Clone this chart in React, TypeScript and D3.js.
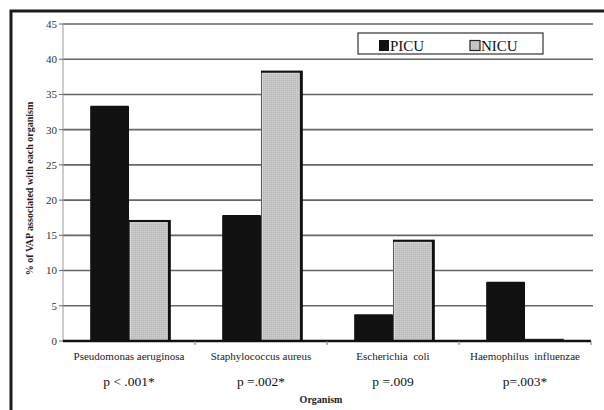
import React from "react";
import * as d3 from "d3";

const organisms = [
  "Pseudomonas aeruginosa",
  "Staphylococcus aureus",
  "Escherichia  coli",
  "Haemophilus  influenzae",
];
const pLabels = ["p < .001*", "p =.002*", "p =.009", "p=.003*"];
const picu = [33.4, 17.9, 3.8, 8.4];
const nicu = [16.9, 38.1, 14.1, 0.1];
const yTicks = [0, 5, 10, 15, 20, 25, 30, 35, 40, 45];

const W = 604;
const H = 410;
const margin = { top: 24, right: 13, bottom: 69, left: 63 };
const font = "'Liberation Serif', 'Times New Roman', serif";

const App = () => {
  const plotW = W - margin.left - margin.right;
  const plotH = H - margin.top - margin.bottom;

  const x = d3.scaleBand().domain(organisms).range([0, plotW]);
  const inner = d3
    .scaleBand()
    .domain(["PICU", "NICU"])
    .range([0, x.bandwidth()])
    .paddingOuter(0.7)
    .paddingInner(0);
  const y = d3.scaleLinear().domain([0, 45]).range([plotH, 0]);
  const bw = inner.bandwidth();

  return (
    <svg
      width={W}
      height={H}
      style={{ position: "absolute", left: 0, top: 0, background: "#fff" }}
    >
      <defs>
        <pattern id="dots" width="2" height="2" patternUnits="userSpaceOnUse">
          <rect width="2" height="2" fill="#c9c9c9" />
          <rect width="1" height="1" fill="#b4b4b4" />
        </pattern>
      </defs>
      {/* frame */}
      <rect x={11} y={11} width={640} height={440} fill="none" stroke="#1a1a1a" strokeWidth={3} />

      <g transform={`translate(${margin.left},${margin.top})`}>
        {/* gridlines */}
        {yTicks.slice(1).map((t) => (
          <line key={t} x1={0} x2={plotW + 2} y1={y(t)} y2={y(t)} stroke="#666" strokeWidth={1.6} />
        ))}
        {/* y axis */}
        <line x1={0} x2={0} y1={0} y2={plotH} stroke="#999" strokeWidth={1} />
        {yTicks.map((t) => (
          <g key={t} transform={`translate(0,${y(t)})`}>
            <line x1={-4} x2={0} stroke="#666" />
            <text x={-6} dy="0.35em" textAnchor="end" fontSize={11} fontFamily={font} fill="#333">
              {t}
            </text>
          </g>
        ))}

        {/* bars */}
        {organisms.map((o, i) => {
          const x0 = x(o) ?? 0;
          const px = x0 + (inner("PICU") ?? 0);
          const nx = x0 + (inner("NICU") ?? 0);
          const nh = plotH - y(nicu[i]);
          return (
            <g key={o}>
              <rect x={px} y={y(picu[i])} width={bw} height={plotH - y(picu[i])} fill="#111" rx={1} />
              {nh > 3 ? (
                <>
                  <rect x={nx} y={y(nicu[i]) - 2} width={bw + 3} height={nh + 2} fill="#111" />
                  <rect
                    x={nx + 1}
                    y={y(nicu[i]) + 0.5}
                    width={bw - 1.5}
                    height={nh - 1}
                    fill="url(#dots)"
                    stroke="#fff"
                    strokeWidth={0.6}
                  />
                </>
              ) : (
                <rect x={nx} y={y(nicu[i]) - 1.5} width={bw} height={nh + 1.5} fill="#222" />
              )}
            </g>
          );
        })}

        {/* x axis */}
        <line x1={0} x2={plotW} y1={plotH} y2={plotH} stroke="#111" strokeWidth={2.5} />
        {organisms.map((o) => (
          <line key={o} x1={(x(o) ?? 0) + x.bandwidth()} x2={(x(o) ?? 0) + x.bandwidth()} y1={plotH} y2={plotH + 4} stroke="#777" />
        ))}
        {organisms.map((o, i) => (
          <g key={o} transform={`translate(${(x(o) ?? 0) + x.bandwidth() / 2},0)`}>
            <text y={plotH + 19} textAnchor="middle" fontSize={11} fontFamily={font} fill="#222" style={{ whiteSpace: "pre" }}>
              {o}
            </text>
            <text y={plotH + 45} textAnchor="middle" fontSize={13.5} fontFamily={font} fill="#111" style={{ whiteSpace: "pre" }}>
              {pLabels[i]}
            </text>
          </g>
        ))}
        <text x={plotW / 2 - 6} y={plotH + 62} textAnchor="middle" fontSize={10} fontWeight="bold" fontFamily={font} fill="#222">
          Organism
        </text>
      </g>

      {/* y label */}
      <text
        transform={`translate(33,${margin.top + plotH / 2 + 6}) rotate(-90)`}
        textAnchor="middle"
        fontSize={10}
        fontWeight="bold"
        fontFamily={font}
        fill="#222"
      >
        % of VAP associated with each organism
      </text>

      {/* legend */}
      <g>
        <rect x={358} y={33} width={185} height={21} fill="#fff" stroke="#333" strokeWidth={1.2} />
        <rect x={379} y={40} width={10} height={11} fill="#111" />
        <text x={390} y={51} fontSize={15} fontFamily={font} fill="#111">PICU</text>
        <rect x={470} y={40.5} width={10} height={10} fill="url(#dots)" stroke="#222" strokeWidth={1.2} />
        <text x={481} y={51} fontSize={15} fontFamily={font} fill="#111">NICU</text>
      </g>
    </svg>
  );
};

export default App;
